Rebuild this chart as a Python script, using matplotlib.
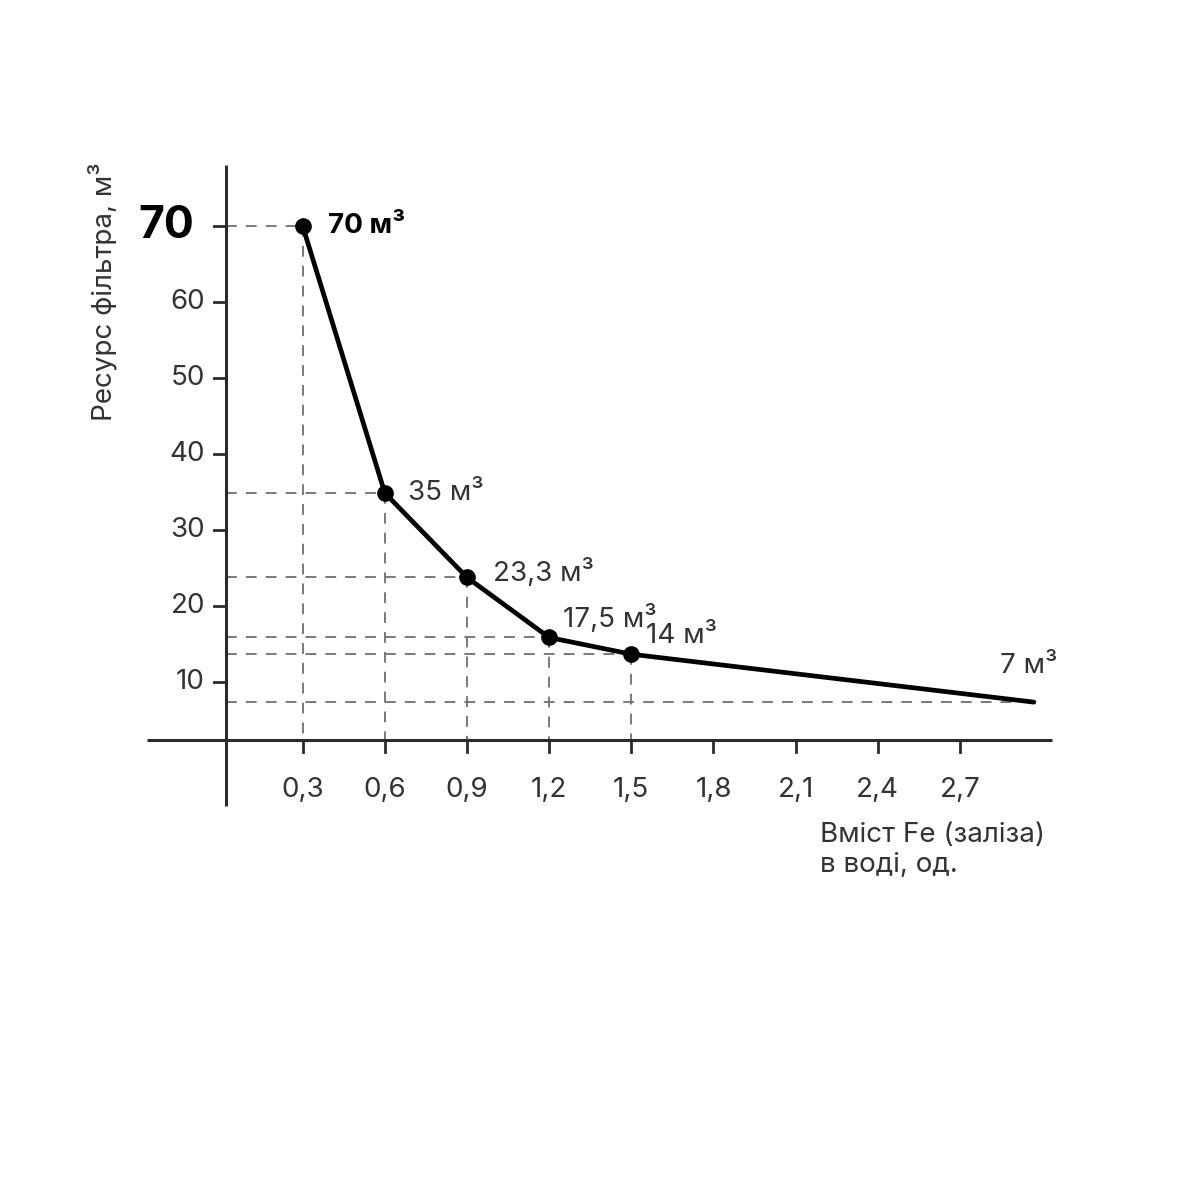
import matplotlib
matplotlib.use("Agg")
import matplotlib.pyplot as plt

plt.rcParams['font.family'] = ['Inter', 'DejaVu Sans']

# data (positions as drawn in the reference)
fe = [0.3, 0.6, 0.9, 1.2, 1.5, 2.97]
resource = [70, 34.9, 23.8, 15.9, 13.7, 7.4]
point_labels = ["70 м³", "35 м³", "23,3 м³", "17,5 м³", "14 м³", "7 м³"]
xticks = [0.3, 0.6, 0.9, 1.2, 1.5, 1.8, 2.1, 2.4, 2.7]
xtick_labels = ["0,3", "0,6", "0,9", "1,2", "1,5", "1,8", "2,1", "2,4", "2,7"]
yticks = [10, 20, 30, 40, 50, 60]
ytick_labels = ["10", "20", "30", "40", "50", "60"]
ytop = 70
ytop_label = "70"
xlabel = "Вміст Fe (заліза)\nв воді, од."
ylabel = "Ресурс фільтра, м³"

W = 1200
fig = plt.figure(figsize=(12, 12), dpi=100)
# pixel mapping
px0, pxs = 220.5, 82.16 / 0.3   # x=0 pixel, px per unit
py0, pys = 758.4, 7.605        # y=0 pixel, px per unit
L, R, T, B = 140, 1070, 150, 820
ax = fig.add_axes([L / W, 1 - B / W, (R - L) / W, (B - T) / W])
ax.set_xlim((L - px0) / pxs, (R - px0) / pxs)
ax.set_ylim((py0 - B) / pys, (py0 - T) / pys)
ax.axis('off')

def X(p):
    return (p - px0) / pxs
def Y(p):
    return (py0 - p) / pys

x_axis_y = Y(739.5)
y_axis_x = X(225.5)
axc = '#2b2b2b'
# axes lines
ax.plot([X(147), X(1052)], [x_axis_y, x_axis_y], color=axc, lw=2.2, solid_capstyle='butt', zorder=2)
ax.plot([y_axis_x, y_axis_x], [Y(165), Y(806)], color=axc, lw=2.2, solid_capstyle='butt', zorder=2)

# tick marks
for xt in xticks:
    ax.plot([xt, xt], [x_axis_y, x_axis_y - 12 / pys], color=axc, lw=2, zorder=2)
for yt in yticks + [ytop]:
    ax.plot([y_axis_x, y_axis_x - 12 / pxs], [yt, yt], color=axc, lw=2, zorder=2)

# dashed guides
dc = '#707070'
for xv, yv in zip(fe, resource):
    ax.plot([y_axis_x, xv], [yv, yv], color=dc, lw=1.3, dashes=(6, 5), zorder=1)
    if xv < 2.0:
        ax.plot([xv, xv], [yv, x_axis_y], color=dc, lw=1.3, dashes=(6, 5), zorder=1)

# main curve
ax.plot(fe, resource, color='black', lw=3.4, zorder=3, solid_capstyle='round')
ax.plot(fe[:-1], resource[:-1], 'o', color='black', ms=11, zorder=4)

# tick labels
tc = '#333333'
fs = 20
for xt, lab in zip(xticks, xtick_labels):
    ax.text(xt, Y(790), lab, ha='center', va='center', fontsize=fs, color=tc)
for yt, lab in zip(yticks, ytick_labels):
    ax.text(X(205), yt, lab, ha='right', va='center', fontsize=fs, color=tc)
ax.text(X(194), ytop, ytop_label, ha='right', va='center', fontsize=32, fontweight='bold', color='black')

# point labels
offsets = [(328, 226), (408, 493), (493, 572), (563, 618), (646, 636), (1000, 666)]
for i, (lab, (ox, oy)) in enumerate(zip(point_labels, offsets)):
    bold = i == 0
    ax.text(X(ox), Y(oy), lab, ha='left', va='center', fontsize=fs,
            fontweight='bold' if bold else 'normal', color='black' if bold else tc)

# axis titles
ax.text(X(820), Y(822), xlabel, ha='left', va='top', fontsize=fs, color=tc, linespacing=1.2)
fig.text(103 / W, 1 - 292 / W, ylabel, rotation=90, ha='center', va='center', fontsize=fs, color=tc)

fig.savefig("out.png", dpi=100, facecolor='white')
